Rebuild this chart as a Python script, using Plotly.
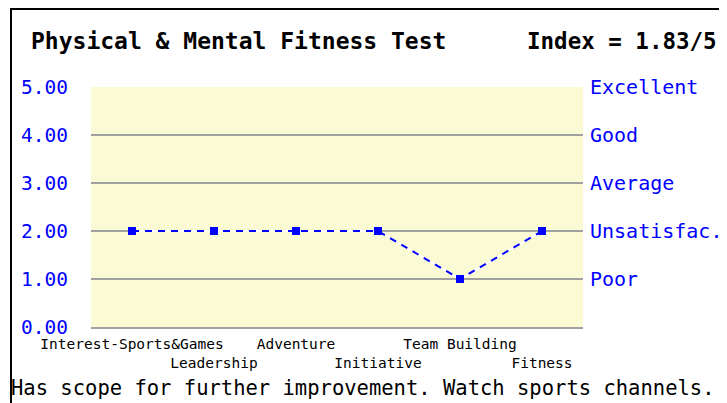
import plotly.graph_objects as go

categories = ["Interest-Sports&Games", "Leadership", "Adventure", "Initiative", "Team Building", "Fitness"]
scores = [2, 2, 2, 2, 1, 2]
left_tick_vals = [0, 1, 2, 3, 4, 5]
right_tick_vals = [1, 2, 3, 4, 5]
right_tick_text = ["Poor", "Unsatisfac.", "Average", "Good", "Excellent"]
title_text = "Physical & Mental Fitness Test"
index_text = "Index = 1.83/5"
comment_text = "Has scope for further improvement. Watch sports channels."

# the page body has an 8px margin: the figure sits at (8, 8) in the window
OFF = 8
W, H = 727 - OFF, 403 - OFF
PL, PR, PT, PB = 91 - OFF, 583 - OFF, 87 - OFF, 327 - OFF


def px(x):
    """page x pixel -> paper x"""
    return (x - OFF - PL) / (PR - PL)


def py(y):
    """page y pixel -> paper y"""
    return (PB - (y - OFF)) / (PB - PT)


xpos = list(range(len(categories)))
even_pos = xpos[0::2]
odd_pos = xpos[1::2]
even_text = categories[0::2]
odd_text = categories[1::2]

fig = go.Figure()
fig.add_trace(go.Scatter(x=xpos, y=scores, mode="lines",
                         line=dict(color="white", width=2), hoverinfo="skip"))
fig.add_trace(go.Scatter(x=xpos, y=scores, mode="lines+markers",
                         line=dict(color="#0000FF", width=2, dash="7px,6px"),
                         marker=dict(symbol="square", size=8, color="#0000FF")))
# invisible trace carrying the second-row x axis and the right y axis
fig.add_trace(go.Scatter(x=xpos, y=scores, xaxis="x2", yaxis="y2", mode="markers",
                         marker=dict(opacity=0), hoverinfo="skip"))

mono = "DejaVu Sans Mono"
cat_font = dict(family=mono, size=14.5, color="black")

fig.update_layout(
    width=W, height=H,
    margin=dict(l=PL, r=W - PR, t=PT, b=H - PB, autoexpand=False),
    paper_bgcolor="white",
    plot_bgcolor="#FAFAD5",
    showlegend=False,
    xaxis=dict(range=[-0.5, len(categories) - 0.5], tickvals=even_pos, ticktext=even_text,
               showgrid=False, zeroline=False, showline=True, mirror=False,
               linecolor="#A0A0A0", linewidth=2, automargin=False, tickangle=0,
               ticks="", ticklabelstandoff=3, tickfont=cat_font),
    xaxis2=dict(range=[-0.5, len(categories) - 0.5], tickvals=odd_pos, ticktext=odd_text,
                overlaying="x", side="bottom", showgrid=False, zeroline=False, showline=False,
                automargin=False, tickangle=0, ticks="", ticklabelstandoff=25,
                tickfont=cat_font),
    yaxis=dict(range=[0, 5], tickvals=left_tick_vals, tickformat=".2f",
               showgrid=True, gridcolor="#A0A0A0", gridwidth=2, zeroline=False,
               showline=False, ticks="", ticklabelstandoff=22, automargin=False,
               tickfont=dict(family=mono, size=19.5, color="#0000FF")),
    yaxis2=dict(range=[0, 5], overlaying="y", side="right", tickvals=right_tick_vals,
                ticktext=right_tick_text, showgrid=False, zeroline=False, showline=False,
                ticks="", ticklabelstandoff=6, automargin=False,
                tickfont=dict(family=mono, size=20, color="#0000FF")),
    annotations=[
        dict(text="<b>" + title_text.replace("&", "&amp;") + "</b>", xref="paper", yref="paper",
             x=px(29), y=py(41), xanchor="left", yanchor="middle", showarrow=False,
             font=dict(family=mono, size=23, color="black")),
        dict(text="<b>" + index_text + "</b>", xref="paper", yref="paper",
             x=px(719), y=py(41), xanchor="right", yanchor="middle", showarrow=False,
             font=dict(family=mono, size=22.5, color="black")),
        dict(text=comment_text, xref="paper", yref="paper",
             x=px(9), y=py(388), xanchor="left", yanchor="middle", showarrow=False,
             font=dict(family=mono, size=20.5, color="black")),
    ],
    shapes=[
        dict(type="line", xref="paper", yref="paper", x0=px(11), x1=px(11), y0=py(8), y1=py(410),
             line=dict(color="black", width=2)),
        dict(type="line", xref="paper", yref="paper", x0=px(10), x1=px(723), y0=py(9), y1=py(9),
             line=dict(color="black", width=2)),
        dict(type="line", xref="paper", yref="paper", x0=px(722), x1=px(722), y0=py(8), y1=py(410),
             line=dict(color="#333333", width=2)),
    ],
)

fig.write_html("out.html")
